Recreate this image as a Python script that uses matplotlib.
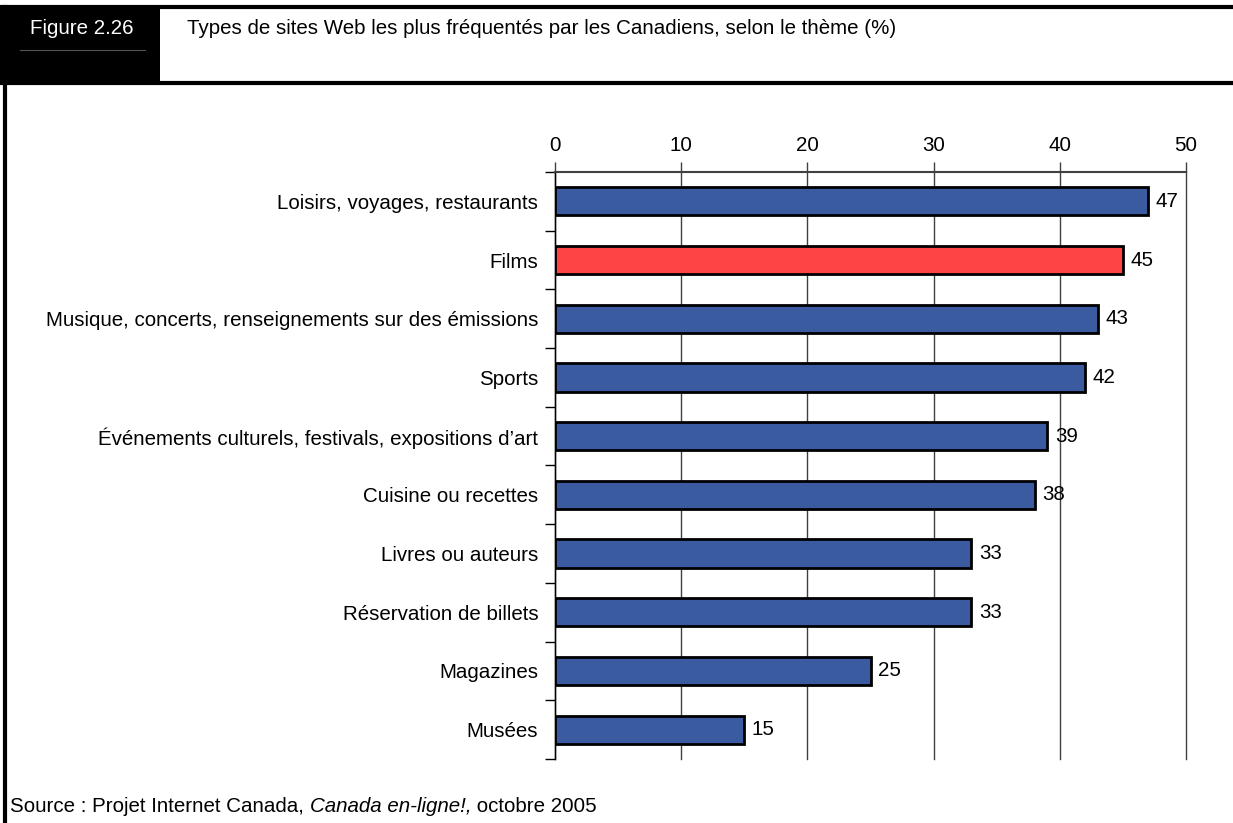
import matplotlib.pyplot as plt
import numpy as np
from matplotlib.lines import Line2D
from matplotlib.patches import Rectangle

plt.rcParams['font.family'] = ['Liberation Sans', 'DejaVu Sans']

themes = [
    "Loisirs, voyages, restaurants",
    "Films",
    "Musique, concerts, renseignements sur des émissions",
    "Sports",
    "Événements culturels, festivals, expositions d\u2019art",
    "Cuisine ou recettes",
    "Livres ou auteurs",
    "Réservation de billets",
    "Magazines",
    "Musées",
]
percent = [47, 45, 43, 42, 39, 38, 33, 33, 25, 15]
highlight = "Films"
x_ticks = [0, 10, 20, 30, 40, 50]

blue = '#3A5BA0'
red = '#FF4444'
fs = 14.8

fig = plt.figure(figsize=(12.33, 8.23), dpi=100)
W, H = 1233, 823
ax = fig.add_axes([555 / W, 1 - 759 / H, (1186 - 555) / W, (759 - 172) / H])

y = np.arange(len(themes))
colors = [red if t == highlight else blue for t in themes]
bars = ax.barh(y, percent, height=0.48, color=colors, edgecolor='black', linewidth=2, zorder=3)

for b, v in zip(bars, percent):
    ax.text(b.get_width() + 0.6, b.get_y() + b.get_height() / 2, str(v),
            va='center', ha='left', fontsize=fs, zorder=4)

ax.set_xlim(0, 50)
ax.set_ylim(len(themes) - 0.5, -0.5)
ax.set_xticks(x_ticks)
ax.xaxis.tick_top()
ax.tick_params(axis='x', direction='out', length=7, width=1, color='#404040',
               labelsize=fs, pad=5)
ax.grid(axis='x', color='#404040', linewidth=1, zorder=1)
for gl in ax.get_xgridlines():
    gl.set_clip_on(False)

ax.set_yticks(y)
ax.set_yticklabels(themes, fontsize=fs)
ax.tick_params(axis='y', length=0, pad=12)
ax.set_yticks(np.arange(len(themes) + 1) - 0.5, minor=True)
ax.tick_params(axis='y', which='minor', direction='out', length=7, width=1, color='black')

for side in ['right', 'bottom']:
    ax.spines[side].set_visible(False)
ax.spines['left'].set_color('black')
ax.spines['left'].set_linewidth(1)
ax.spines['top'].set_color('#404040')
ax.spines['top'].set_linewidth(1.5)

# frame and header band
fig.add_artist(Line2D([0, 1], [1 - 7 / H, 1 - 7 / H], color='black', lw=3))
fig.add_artist(Line2D([0, 1], [1 - 83 / H, 1 - 83 / H], color='black', lw=3))
fig.add_artist(Line2D([5 / W, 5 / W], [0, 1 - 7 / H], color='black', lw=3))
fig.add_artist(Rectangle((0, 1 - 83 / H), 160 / W, 76 / H, transform=fig.transFigure,
                         facecolor='black', edgecolor='none'))
fig.add_artist(Line2D([20 / W, 145 / W], [1 - 50 / H, 1 - 50 / H], color='#555555', lw=0.8))
fig.text(30 / W, 1 - 29 / H, "Figure 2.26", color='white', fontsize=fs, va='center')
fig.text(187 / W, 1 - 29 / H,
         "Types de sites Web les plus fréquentés par les Canadiens, selon le thème (%)",
         color='black', fontsize=fs, va='center')

src = fig.text(10 / W, 1 - 806 / H, "Source : Projet Internet Canada, ", fontsize=fs, va='center')
fig.canvas.draw()
bb = src.get_window_extent()
it = fig.text(bb.x1 / W, 1 - 806 / H, "Canada en-ligne!,", fontsize=fs, va='center', style='italic')
bb2 = it.get_window_extent()
fig.text(bb2.x1 / W, 1 - 806 / H, " octobre 2005", fontsize=fs, va='center')

fig.savefig('out.png', dpi=100)
